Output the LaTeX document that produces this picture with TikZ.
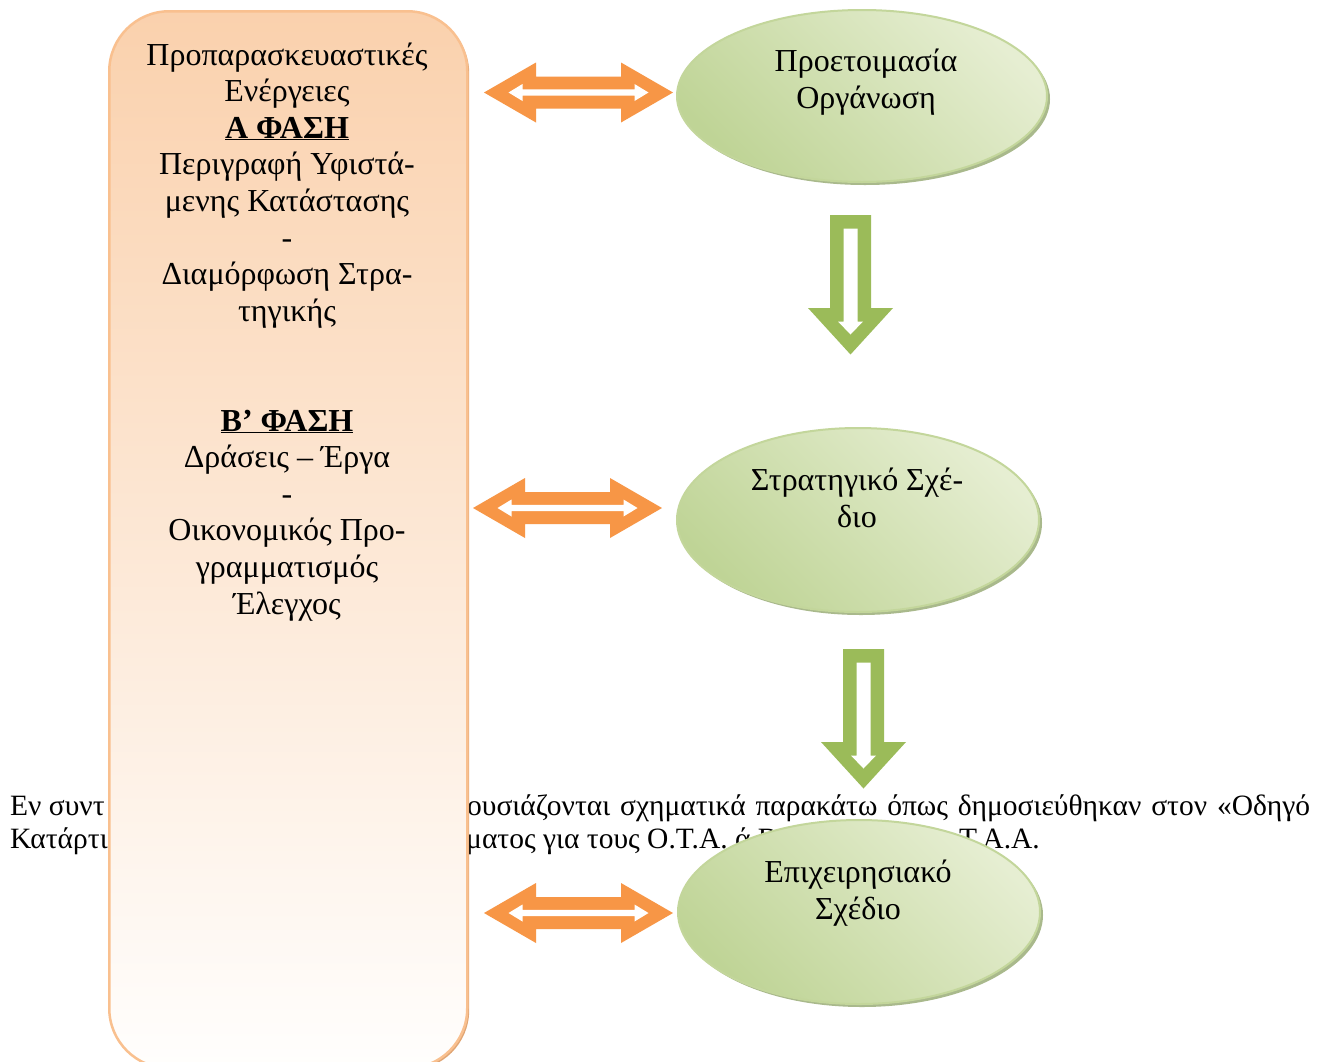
\documentclass[tikz,border=0pt]{standalone}
\usepackage{fontspec}
\setmainfont{Liberation Serif}
\usetikzlibrary{shapes.geometric}
\definecolor{arrorange}{HTML}{F79646}
\definecolor{arrgreen}{HTML}{9BBB59}
\definecolor{boxtop}{HTML}{FAD1AD}
\definecolor{boxbot}{HTML}{FFFEFD}
\definecolor{boxline}{HTML}{F9C08F}
\definecolor{boxshadow}{HTML}{E0A574}
\definecolor{ellA}{HTML}{E6EED2}
\definecolor{ellB}{HTML}{BFD496}
\definecolor{ellline}{HTML}{C3D69B}
\definecolor{ellshadow}{HTML}{A9B98C}
\newcommand{\orangedbl}[3]{%
  \coordinate (#1) at (#2,#3);
  \begin{scope}[shift={(#1)}]
    \fill[arrorange] (-94.5,0) -- (-42.5,-30) -- (-42.5,-16) -- (42.5,-16) -- (42.5,-30)
      -- (94.5,0) -- (42.5,30) -- (42.5,16) -- (-42.5,16) -- (-42.5,30) -- cycle;
    \fill[white] (-70,0) -- (-56,-8.5) -- (-56,-3.2) -- (56,-3.2) -- (56,-8.5)
      -- (70,0) -- (56,8.5) -- (56,3.2) -- (-56,3.2) -- (-56,8.5) -- cycle;
  \end{scope}}
\newcommand{\greendown}[3]{%
  \coordinate (#1) at (#2,#3);
  \begin{scope}[shift={(#1)}]
    \fill[arrgreen] (-20.5,0) -- (20.5,0) -- (20.5,93) -- (42.5,93) -- (0,139.5)
      -- (-42.5,93) -- (-20.5,93) -- cycle;
    \fill[white] (-7,13.5) -- (7,13.5) -- (7,106.5) -- (12.5,106.5) -- (0,119.5)
      -- (-12.5,106.5) -- (-7,106.5) -- cycle;
  \end{scope}}
\begin{document}
\begin{tikzpicture}[x=1pt,y=-1pt,
  bodytext/.style={font=\fontsize{29.5}{33}\selectfont, inner sep=0pt},
  bigtext/.style={font=\fontsize{32}{36.6}\selectfont, inner sep=0pt, align=center},
  ellshape/.style={ellipse, inner sep=0pt, minimum width=#1},
  ]
\useasboundingbox (0,0) rectangle (1325,1061);
\clip (0,0) rectangle (1325,1061);
\fill[white] (0,0) rectangle (1325,1061);

% body text behind the shapes
\node[bodytext, anchor=base west] (p1a) at (10,815) {Εν συντ};
\node[bodytext, anchor=base west] (p1b) at (467,815) {\makebox[843pt][s]{ουσιάζονται σχηματικά παρακάτω όπως δημοσιεύθηκαν στον «Οδηγό}};
\node[bodytext, anchor=base west] (p2a) at (10,848) {Κατάρτι};
\node[bodytext, anchor=base west] (p2b) at (466,848) {ματος για τους Ο.Τ.Α. ά Β};
\node[bodytext, anchor=base east] (p2c) at (1040,848) {Τ.Α.Α.};

% left rounded box
\node[anchor=north west, rounded corners=60pt, minimum width=358pt, minimum height=1057pt,
  fill=boxshadow, inner sep=0pt] (boxsh) at (111,13) {};
\node[anchor=north west, rounded corners=60pt, minimum width=358pt, minimum height=1057pt,
  draw=boxline, line width=2.5pt, top color=boxtop, bottom color=boxbot, inner sep=0pt] (box) at (108,10) {};
\node[bigtext, anchor=base] (boxtext) at (287,614) {Προπαρασκευαστικές\\Ενέργειες\\\underline{\textbf{Α ΦΑΣΗ}}\\Περιγραφή Υφιστά-\\μενης Κατάστασης\\-\\Διαμόρφωση Στρα-\\τηγικής\\[73.2pt]\underline{\textbf{Β’ ΦΑΣΗ}}\\Δράσεις – Έργα\\-\\Οικονομικός Προ-\\γραμματισμός\\Έλεγχος};

% ellipses
\foreach \n/\cx/\cy/\w/\h in {e1/862/96/370/172, e2/858/520/362/184, e3/859/912/362/184}{
  \node[ellshape=\w pt, minimum height=\h pt, fill=ellshadow] (\n s) at (\cx+3,\cy+3) {};
  \node[ellshape=\w pt, minimum height=\h pt, draw=ellline, line width=2pt,
    top color=ellA, bottom color=ellB, shading angle=-45] (\n) at (\cx,\cy) {};
}
\node[bigtext, anchor=base] (e1t) at (866,108) {Προετοιμασία\\Οργάνωση};
\node[bigtext, anchor=base] (e2t) at (857,527) {Στρατηγικό Σχέ-\\διο};
\node[bigtext, anchor=base] (e3t) at (858,919) {Επιχειρησιακό\\Σχέδιο};

% arrows
\orangedbl{a1}{578.5}{92.5}
\orangedbl{a2}{567.5}{508}
\orangedbl{a3}{578.5}{913}
\greendown{g1}{850.5}{215}
\greendown{g2}{863.5}{649}
\end{tikzpicture}
\end{document}
